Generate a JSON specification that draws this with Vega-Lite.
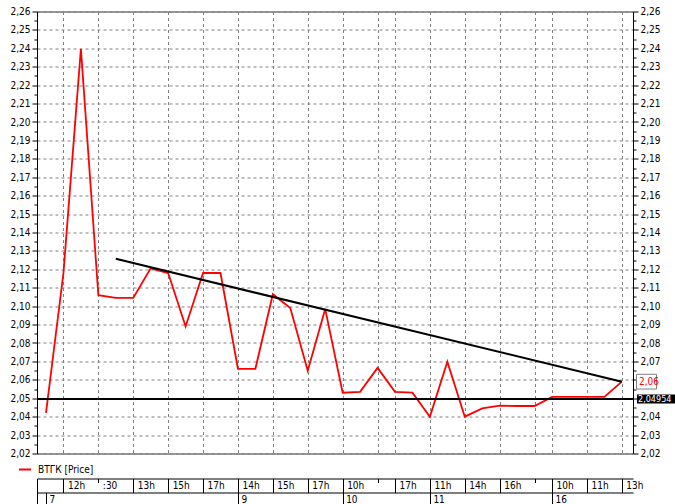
{
  "$schema": "https://vega.github.io/schema/vega-lite/v6.json",
  "width": 596,
  "height": 442,
  "autosize": {"type": "none"},
  "padding": {"left": 37, "top": 11.5, "right": 42, "bottom": 50.5},
  "background": "white",
  "datasets": {
    "price": [
      {"i": 0, "p": 2.042}, {"i": 1, "p": 2.118}, {"i": 2, "p": 2.2398}, {"i": 3, "p": 2.106},
      {"i": 4, "p": 2.1045}, {"i": 5, "p": 2.1045}, {"i": 6, "p": 2.1205}, {"i": 7, "p": 2.118},
      {"i": 8, "p": 2.089}, {"i": 9, "p": 2.118}, {"i": 10, "p": 2.118}, {"i": 11, "p": 2.066},
      {"i": 12, "p": 2.066}, {"i": 13, "p": 2.1065}, {"i": 14, "p": 2.099}, {"i": 15, "p": 2.065},
      {"i": 16, "p": 2.0985}, {"i": 17, "p": 2.053}, {"i": 18, "p": 2.0535}, {"i": 19, "p": 2.0665},
      {"i": 20, "p": 2.0535}, {"i": 21, "p": 2.053}, {"i": 22, "p": 2.040}, {"i": 23, "p": 2.0698},
      {"i": 24, "p": 2.040}, {"i": 25, "p": 2.0445}, {"i": 26, "p": 2.046}, {"i": 27, "p": 2.0458},
      {"i": 28, "p": 2.0458}, {"i": 29, "p": 2.0507}, {"i": 30, "p": 2.0507}, {"i": 31, "p": 2.0507},
      {"i": 32, "p": 2.0507}, {"i": 33, "p": 2.059}
    ],
    "trend": [{"i": 4, "p": 2.1257}, {"i": 33, "p": 2.059}],
    "level": [{"value": 2.04954}]
  },
  "config": {
    "locale": {"number": {"decimal": ",", "thousands": " ", "grouping": [3], "currency": ["", ""]}},
    "view": {"stroke": "#333"},
    "font": "Liberation Sans Narrow, DejaVu Sans Condensed, sans-serif",
    "axis": {
      "labelFont": "Liberation Sans Narrow, DejaVu Sans Condensed, sans-serif",
      "labelFontSize": 10,
      "labelColor": "#000",
      "domainColor": "#000",
      "tickColor": "#000",
      "zindex": 0
    },
    "text": {"font": "Liberation Sans Narrow, DejaVu Sans Condensed, sans-serif", "fontSize": 10}
  },
  "layer": [
    {
      "data": {"name": "price"},
      "mark": {"type": "line", "strokeWidth": 1.8},
      "encoding": {
        "x": {
          "field": "i", "type": "quantitative",
          "scale": {"domain": [-0.516, 33.64], "nice": false, "zero": false},
          "axis": {
            "title": null, "orient": "bottom", "offset": 25,
            "values": [-0.516, 1, 3, 5, 7, 9, 11, 13, 15, 17, 19, 20, 22, 24, 26, 28, 29, 31, 33],
            "labelExpr": "{'1':'12h','3':':30','5':'13h','7':'15h','9':'17h','11':'14h','13':'15h','15':'17h','17':'10h','20':'17h','22':'11h','24':'14h','26':'16h','29':'10h','31':'11h','33':'13h'}[datum.value] || ''",
            "labelAlign": "left", "labelBaseline": "middle", "labelOffset": 4,
            "labelPadding": {"condition": {"test": "datum.value == 3 || datum.value == 19 || datum.value == 28", "value": 3}, "value": -7},
            "labelFlush": false, "labelOverlap": false, "labelBound": false,
            "tickSize": {"condition": {"test": "datum.value == 3 || datum.value == 19 || datum.value == 28", "value": 4}, "value": 14},
            "grid": true, "gridDash": [3, 3], "gridColor": "#808080", "gridWidth": 1
          }
        },
        "y": {
          "field": "p", "type": "quantitative",
          "scale": {"domain": [2.02, 2.26], "nice": false, "zero": false},
          "axis": {
            "title": null, "orient": "left", "format": ".2f",
            "values": [2.02, 2.025, 2.03, 2.035, 2.04, 2.045, 2.05, 2.055, 2.06, 2.065, 2.07, 2.075, 2.08, 2.085, 2.09, 2.095, 2.1, 2.105, 2.11, 2.115, 2.12, 2.125, 2.13, 2.135, 2.14, 2.145, 2.15, 2.155, 2.16, 2.165, 2.17, 2.175, 2.18, 2.185, 2.19, 2.195, 2.2, 2.205, 2.21, 2.215, 2.22, 2.225, 2.23, 2.235, 2.24, 2.245, 2.25, 2.255, 2.26],
            "labelExpr": "round(datum.value * 1000) % 10 == 0 ? datum.label : ''",
            "labelPadding": 2, "labelOverlap": false, "labelFlush": false,
            "tickSize": {"condition": {"test": "round(datum.value * 1000) % 10 != 0", "value": 3}, "value": 5},
            "grid": true, "gridDash": [3, 3], "gridColor": "#808080", "gridWidth": 1,
            "gridOpacity": {"condition": {"test": "round(datum.value * 1000) % 10 != 0", "value": 0}, "value": 1}
          }
        },
        "color": {
          "datum": "ВТГК [Price]", "type": "nominal",
          "scale": {"range": ["#ff0000"]},
          "legend": {
            "orient": "none", "legendX": -19, "legendY": 451, "title": null,
            "symbolType": "stroke", "symbolStrokeWidth": 2, "symbolSize": 144,
            "labelFont": "Liberation Sans Narrow, DejaVu Sans Condensed, sans-serif",
            "labelFontSize": 10, "labelColor": "#000", "labelOffset": 6, "padding": 0
          }
        }
      }
    },
    {
      "data": {"name": "trend"},
      "mark": {"type": "line", "color": "#000", "strokeWidth": 2},
      "encoding": {
        "x": {
          "field": "i", "type": "quantitative",
          "scale": {"domain": [-0.516, 33.64], "nice": false, "zero": false},
          "axis": {
            "title": null, "orient": "bottom", "offset": 39,
            "values": [-0.516, 0, 11, 17, 22, 29],
            "labelExpr": "{'0':'7','11':'9','17':'10','22':'11','29':'16'}[datum.value] || ''",
            "labelAlign": "left", "labelBaseline": "middle", "labelOffset": 3, "labelPadding": -7,
            "labelFlush": false, "labelOverlap": false, "labelBound": false,
            "tickSize": 14, "grid": false
          }
        },
        "y": {
          "field": "p", "type": "quantitative",
          "scale": {"domain": [2.02, 2.26], "nice": false, "zero": false},
          "axis": {
            "title": null, "orient": "right", "format": ".2f",
            "values": [2.02, 2.025, 2.03, 2.035, 2.04, 2.045, 2.05, 2.055, 2.06, 2.065, 2.07, 2.075, 2.08, 2.085, 2.09, 2.095, 2.1, 2.105, 2.11, 2.115, 2.12, 2.125, 2.13, 2.135, 2.14, 2.145, 2.15, 2.155, 2.16, 2.165, 2.17, 2.175, 2.18, 2.185, 2.19, 2.195, 2.2, 2.205, 2.21, 2.215, 2.22, 2.225, 2.23, 2.235, 2.24, 2.245, 2.25, 2.255, 2.26],
            "labelExpr": "round(datum.value * 1000) % 10 == 0 && round(datum.value * 1000) != 2050 && round(datum.value * 1000) != 2060 ? datum.label : ''",
            "labelPadding": 2, "labelOverlap": false, "labelFlush": false,
            "tickSize": {"condition": {"test": "round(datum.value * 1000) % 10 != 0", "value": 3}, "value": 5},
            "grid": false
          }
        }
      }
    },
    {
      "data": {"name": "level"},
      "mark": {"type": "rule", "color": "#000", "strokeWidth": 2},
      "encoding": {
        "y": {"field": "value", "type": "quantitative", "scale": {"domain": [2.02, 2.26], "nice": false, "zero": false}, "axis": null}
      }
    },
    {
      "data": {"name": "price"},
      "transform": [{"filter": "datum.i == 33"}],
      "mark": {"type": "point", "shape": "M-1,-0.737H1V0.737H-1Z", "size": 400, "filled": true, "fill": "#fff", "stroke": "#808080", "strokeWidth": 1, "opacity": 1, "xOffset": 13.5},
      "encoding": {
        "x": {"datum": 33.64, "type": "quantitative", "scale": {"domain": [-0.516, 33.64], "nice": false, "zero": false}, "axis": null},
        "y": {"field": "p", "type": "quantitative", "scale": {"domain": [2.02, 2.26], "nice": false, "zero": false}, "axis": null}
      }
    },
    {
      "data": {"name": "price"},
      "transform": [{"filter": "datum.i == 33"}],
      "mark": {"type": "text", "align": "left", "baseline": "middle", "color": "#ff0000", "xOffset": 6},
      "encoding": {
        "x": {"datum": 33.64, "type": "quantitative", "scale": {"domain": [-0.516, 33.64], "nice": false, "zero": false}, "axis": null},
        "y": {"field": "p", "type": "quantitative", "scale": {"domain": [2.02, 2.26], "nice": false, "zero": false}, "axis": null},
        "text": {"field": "p", "type": "quantitative", "format": ".2f"}
      }
    },
    {
      "data": {"name": "level"},
      "mark": {"type": "point", "shape": "M-1,-0.21H1V0.21H-1Z", "size": 1849, "filled": true, "fill": "#000", "opacity": 1, "strokeWidth": 0, "xOffset": 25.5},
      "encoding": {
        "x": {"datum": 33.64, "type": "quantitative", "scale": {"domain": [-0.516, 33.64], "nice": false, "zero": false}, "axis": null},
        "y": {"field": "value", "type": "quantitative", "scale": {"domain": [2.02, 2.26], "nice": false, "zero": false}, "axis": null}
      }
    },
    {
      "data": {"name": "level"},
      "mark": {"type": "text", "align": "left", "baseline": "middle", "color": "#fff", "xOffset": 5, "fontSize": 9},
      "encoding": {
        "x": {"datum": 33.64, "type": "quantitative", "scale": {"domain": [-0.516, 33.64], "nice": false, "zero": false}, "axis": null},
        "y": {"field": "value", "type": "quantitative", "scale": {"domain": [2.02, 2.26], "nice": false, "zero": false}, "axis": null},
        "text": {"field": "value", "type": "quantitative", "format": ".5f"}
      }
    }
  ],
  "resolve": {"axis": {"x": "independent", "y": "independent"}}
}
